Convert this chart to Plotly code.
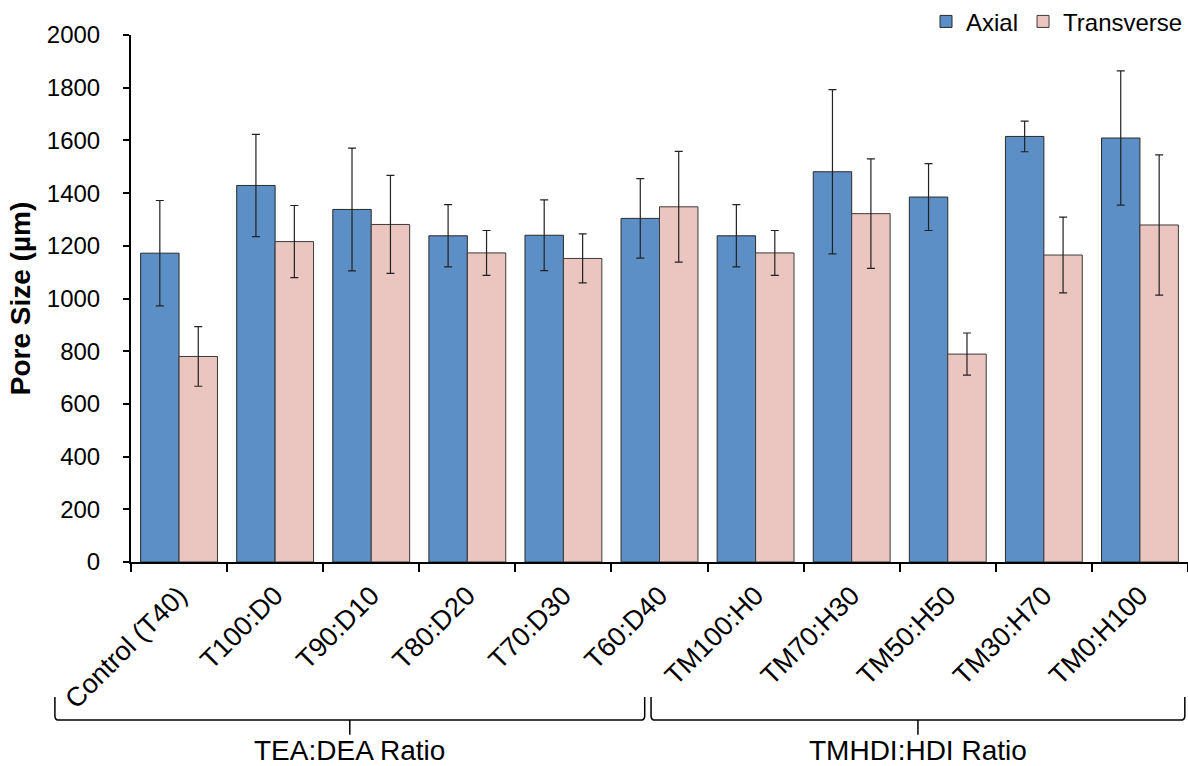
import plotly.graph_objects as go

categories = ["Control (T40)", "T100:D0", "T90:D10", "T80:D20", "T70:D30", "T60:D40",
              "TM100:H0", "TM70:H30", "TM50:H50", "TM30:H70", "TM0:H100"]
axial = [1172, 1429, 1338, 1238, 1240, 1304, 1238, 1481, 1385, 1615, 1609]
axial_err = [200, 194, 233, 118, 134, 151, 118, 312, 127, 58, 255]
transverse = [780, 1216, 1281, 1173, 1152, 1348, 1173, 1322, 789, 1165, 1279]
transverse_err = [113, 137, 186, 85, 93, 210, 85, 208, 80, 144, 266]

groups = ["TEA:DEA Ratio", "TMHDI:HDI Ratio"]
# bracket spans in paper coordinates (x0, x1)
group_spans = [(-0.072, 0.486), (0.492, 0.997)]

FONT = "Liberation Sans, Arial, sans-serif"

fig = go.Figure()
fig.add_trace(go.Bar(
    x=categories, y=axial, name="Axial",
    marker=dict(color="#5B8FC5", line=dict(color="#2a2a2a", width=1)),
    error_y=dict(type="data", array=axial_err, color="#222222", thickness=1.2, width=4),
))
fig.add_trace(go.Bar(
    x=categories, y=transverse, name="Transverse",
    marker=dict(color="#EBC6C0", line=dict(color="#3a3a3a", width=1)),
    error_y=dict(type="data", array=transverse_err, color="#222222", thickness=1.2, width=4),
))

shapes = []
annotations = []
y_top, y_line, y_tick = -0.256, -0.300, -0.328
for (x0, x1), label in zip(group_spans, groups):
    r = 0.004
    ry = 0.008
    path = (f"M {x0},{y_top} L {x0},{y_line + ry} Q {x0},{y_line} {x0 + r},{y_line} "
            f"L {x1 - r},{y_line} Q {x1},{y_line} {x1},{y_line + ry} L {x1},{y_top}")
    shapes.append(dict(type="path", xref="paper", yref="paper", path=path,
                       line=dict(color="black", width=1.5)))
    xm = (x0 + x1) / 2
    shapes.append(dict(type="line", xref="paper", yref="paper", x0=xm, x1=xm,
                       y0=y_line, y1=y_tick, line=dict(color="black", width=1.5)))
    annotations.append(dict(text=label, xref="paper", yref="paper", x=xm, y=-0.3586,
                            xanchor="center", yanchor="middle", showarrow=False,
                            font=dict(size=28, color="black", family=FONT)))

fig.update_layout(
    width=1188, height=766,
    margin=dict(l=131, r=0, t=35, b=204, autoexpand=False),
    paper_bgcolor="white", plot_bgcolor="white",
    barmode="group", bargap=0.2, bargroupgap=0,
    font=dict(family=FONT, color="black", size=24),
    legend=dict(orientation="h", x=1.0, xanchor="right", y=1.025, yanchor="middle",
                font=dict(size=24), bgcolor="rgba(0,0,0,0)", traceorder="normal",
                itemwidth=30),
    shapes=shapes, annotations=annotations,
    showlegend=True,
)
fig.update_xaxes(
    type="category", range=[-0.5, 10.5], showline=True, linecolor="black", linewidth=2,
    ticks="outside", tickson="boundaries", ticklen=8, tickwidth=2, tickcolor="black",
    tickangle=-45, tickfont=dict(size=27), ticklabelstandoff=5,
    showgrid=False, zeroline=False,
)
fig.update_yaxes(
    range=[0, 2000], dtick=200, showline=True, linecolor="black", linewidth=2,
    ticks="outside", ticklen=6, tickwidth=2, tickcolor="black",
    tickfont=dict(size=24), ticklabelstandoff=18, showgrid=False, zeroline=False,
    title=dict(text="<b>Pore Size (µm)</b>", font=dict(size=28), standoff=8),
)

fig.write_html("out.html")
